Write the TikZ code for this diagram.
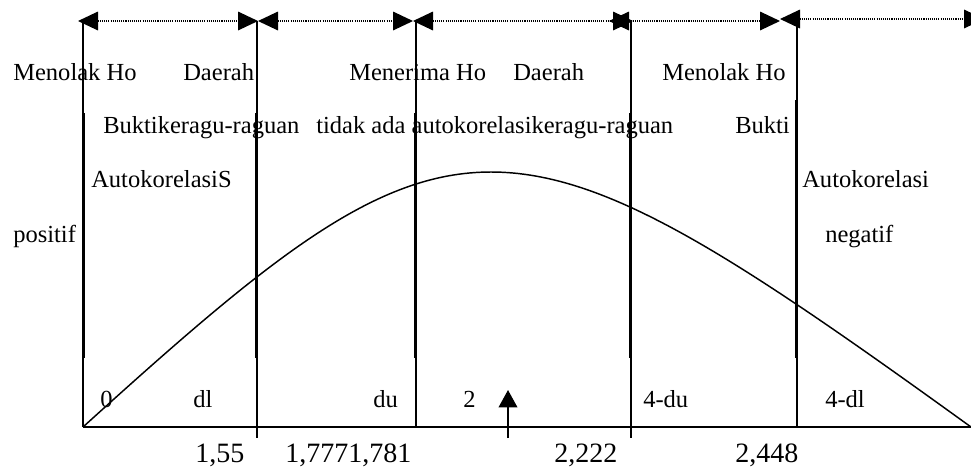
\documentclass[tikz,border=0pt]{standalone}
\usepackage{fontspec}
\setmainfont{Liberation Serif}
\usetikzlibrary{arrows.meta}
\begin{document}
\begin{tikzpicture}[x=0.75pt,y=-0.75pt,
  lbl/.style={anchor=base west, inner sep=0pt, font=\fontsize{18.4}{22}\selectfont},
  num/.style={anchor=base west, inner sep=0pt, font=\fontsize{21}{25}\selectfont},
  thinline/.style={line width=1.1pt},
  thickline/.style={line width=1.4pt},
  rng/.style={line width=0.9pt, dash pattern=on 0.8pt off 0.8pt,
    {Triangle[length=15pt,width=14pt]}-{Triangle[length=15pt,width=14pt]}},
]
\useasboundingbox (0,0) rectangle (971,469);

% divider coordinates
\coordinate (t1) at (83,21);   \coordinate (b1) at (83,427);
\coordinate (t2) at (257,21);  \coordinate (b2) at (257,438);
\coordinate (t3) at (416,21);  \coordinate (b3) at (416,427);
\coordinate (t4) at (631,21);  \coordinate (b4) at (631,438);
\coordinate (t5) at (797,21);  \coordinate (b5) at (797,427);
\coordinate (k1a) at (84.5,113); \coordinate (k1b) at (84.5,358);
\coordinate (k2a) at (256,113); \coordinate (k2b) at (256,358);
\coordinate (k3a) at (415,113); \coordinate (k3b) at (415,358);
\coordinate (k4a) at (630,113); \coordinate (k4b) at (630,358);
\coordinate (k5a) at (795.5,100); \coordinate (k5b) at (795.5,358);

% top ranges
\coordinate (r0) at (78,21);
\coordinate (r1) at (258,21);
\coordinate (r2) at (413,21);
\coordinate (r3) at (633,21);
\coordinate (r3b) at (609,21);
\coordinate (r4) at (780,21);
\coordinate (r4b) at (780,19);
\coordinate (r5) at (984,19);
\draw[rng] (r0) -- (r1);
\draw[rng] (r1) -- (r2);
\draw[rng] (r2) -- (r3);
\draw[rng] (r3b) -- (r4);
\draw[rng] (r4b) -- (r5);

% dividers
\draw[thinline] (t1) -- (b1);
\draw[thinline] (t2) -- (b2);
\draw[thinline] (t3) -- (b3);
\draw[thinline] (t4) -- (b4);
\draw[thinline] (t5) -- (b5);
\draw[thickline] (k1a) -- (k1b);
\draw[thickline] (k2a) -- (k2b);
\draw[thickline] (k3a) -- (k3b);
\draw[thickline] (k4a) -- (k4b);
\draw[thickline] (k5a) -- (k5b);

% baseline and curve
\coordinate (o) at (83,427);
\coordinate (e) at (971,427);
\draw[thinline] (o) -- (e);
\draw[thinline] (o) .. controls (458,87) and (500,87) .. (e);

% up arrow
\coordinate (ua) at (508,438);
\coordinate (ub) at (508,390);
\draw[thinline, -{Triangle[length=13pt,width=14pt]}] (ua) -- (ub);

% labels
\node[lbl] (m1) at (13,80) {Menolak Ho};
\node[lbl] (d1) at (183,80) {Daerah};
\node[lbl] (mh) at (349,80) {Menerima Ho};
\node[lbl] (d2) at (513,80) {Daerah};
\node[lbl] (m2) at (662,80) {Menolak Ho};
\node[lbl] (bk1) at (103,133) {Buktikeragu-raguan};
\node[lbl] (tda) at (316,133) {tidak ada autokorelasikeragu-raguan};
\node[lbl] (bk2) at (735,133) {Bukti};
\node[lbl] (ak1) at (91,187) {AutokorelasiS};
\node[lbl] (ak2) at (802,187) {Autokorelasi};
\node[lbl] (pos) at (13,242) {positif};
\node[lbl] (neg) at (825,242) {negatif};

\node[lbl] (z) at (100,407) {0};
\node[lbl] (dl) at (193,407) {dl};
\node[lbl] (du) at (373,407) {du};
\node[lbl] (two) at (463,407) {2};
\node[lbl] (fdu) at (643,407) {4-du};
\node[lbl] (fdl) at (825,407) {4-dl};

\node[num] (n1) at (195,462) {1,55};
\node[num] (n2) at (285,462) {1,7771,781};
\node[num] (n3) at (554,462) {2,222};
\node[num] (n4) at (735,462) {2,448};
\end{tikzpicture}
\end{document}
